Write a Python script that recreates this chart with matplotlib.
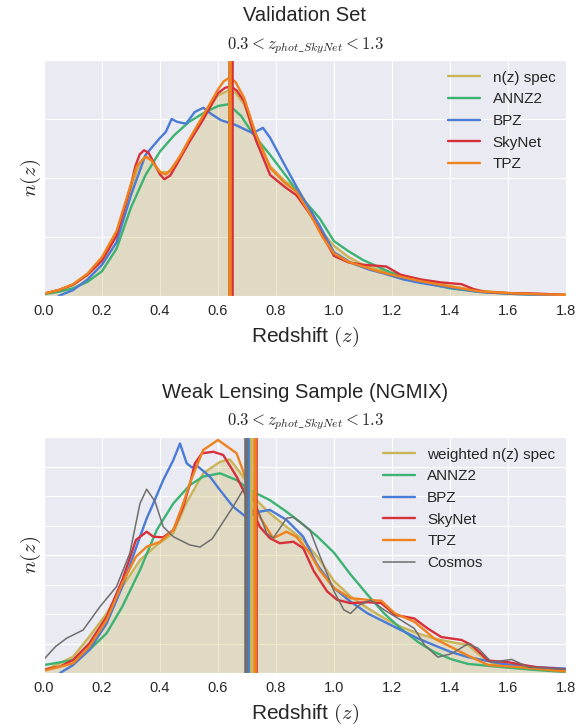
import matplotlib
matplotlib.use("Agg")
import matplotlib.pyplot as plt
import seaborn as sns

sns.set_style("darkgrid")
plt.rcParams['font.family'] = ['Liberation Sans', 'DejaVu Sans']
plt.rcParams['mathtext.fontset'] = 'cm'

# ---- validation set n(z) ----
val_spec_z = [0.0, 0.05, 0.1, 0.15, 0.2, 0.25, 0.28, 0.3, 0.33, 0.35, 0.37, 0.4, 0.43, 0.46, 0.5, 0.55,
              0.6, 0.635, 0.66, 0.69, 0.73, 0.78, 0.83, 0.88, 0.92, 0.96, 1.0, 1.05, 1.1, 1.15, 1.2,
              1.3, 1.4, 1.5, 1.6, 1.7, 1.8]
val_spec_n = [0.04, 0.1, 0.19, 0.36, 0.62, 1.05, 1.45, 1.82, 2.25, 2.38, 2.3, 2.1, 2.1, 2.3, 2.62, 3.05,
              3.4, 3.48, 3.45, 3.25, 2.75, 2.2, 1.95, 1.78, 1.45, 1.08, 0.85, 0.66, 0.53, 0.45, 0.39,
              0.26, 0.17, 0.09, 0.05, 0.03, 0.02]

val_annz2_z = [0.0, 0.05, 0.1, 0.15, 0.2, 0.25, 0.3, 0.35, 0.4, 0.45, 0.5, 0.55, 0.6, 0.635, 0.68, 0.72,
               0.78, 0.84, 0.89, 0.95, 1.0, 1.05, 1.1, 1.15, 1.2, 1.3, 1.4, 1.5, 1.6, 1.7, 1.8]
val_annz2_n = [0.03, 0.07, 0.13, 0.24, 0.42, 0.8, 1.5, 2.05, 2.45, 2.73, 2.95, 3.1, 3.22, 3.25, 3.05, 2.75,
               2.39, 2.0, 1.66, 1.32, 0.93, 0.76, 0.61, 0.5, 0.39, 0.24, 0.13, 0.07, 0.04, 0.02, 0.01]

val_bpz_z = [0.05, 0.1, 0.15, 0.2, 0.25, 0.3, 0.35, 0.4, 0.42, 0.44, 0.46, 0.49, 0.52, 0.55, 0.575, 0.61,
             0.66, 0.72, 0.755, 0.78, 0.83, 0.89, 0.95, 1.0, 1.06, 1.12, 1.18, 1.24, 1.3, 1.4, 1.5, 1.6,
             1.7, 1.8]
val_bpz_n = [0.0, 0.1, 0.28, 0.53, 0.91, 1.71, 2.39, 2.68, 2.78, 3.0, 2.95, 2.92, 3.12, 3.19, 3.09, 2.98,
             2.9, 2.76, 2.85, 2.68, 2.22, 1.68, 1.2, 0.74, 0.56, 0.45, 0.37, 0.28, 0.22, 0.14, 0.07, 0.04,
             0.02, 0.01]

val_skynet_z = [0.0, 0.05, 0.1, 0.15, 0.2, 0.25, 0.3, 0.315, 0.33, 0.345, 0.36, 0.38, 0.4, 0.415, 0.435,
                0.46, 0.5, 0.55, 0.6, 0.625, 0.645, 0.665, 0.69, 0.73, 0.78, 0.83, 0.87, 0.92, 0.96,
                1.0, 1.05, 1.1, 1.18, 1.23, 1.3, 1.37, 1.44, 1.48, 1.52, 1.6, 1.7, 1.8]
val_skynet_n = [0.04, 0.1, 0.19, 0.36, 0.6, 1.02, 1.88, 2.2, 2.4, 2.47, 2.43, 2.25, 2.06, 1.98, 2.04,
                2.25, 2.6, 3.0, 3.44, 3.53, 3.55, 3.48, 3.3, 2.65, 2.05, 1.85, 1.71, 1.37, 1.03,
                0.68, 0.57, 0.53, 0.5, 0.36, 0.28, 0.23, 0.2, 0.12, 0.07, 0.05, 0.04, 0.02]

val_tpz_z = [0.0, 0.05, 0.1, 0.15, 0.2, 0.25, 0.3, 0.32, 0.35, 0.37, 0.4, 0.42, 0.44, 0.47, 0.5, 0.55,
             0.6, 0.62, 0.64, 0.66, 0.69, 0.73, 0.78, 0.83, 0.87, 0.92, 0.96, 1.0, 1.05, 1.1, 1.15,
             1.2, 1.3, 1.4, 1.5, 1.6, 1.7, 1.8]
val_tpz_n = [0.04, 0.1, 0.2, 0.38, 0.66, 1.1, 1.9, 2.2, 2.36, 2.3, 2.1, 2.06, 2.15, 2.38, 2.65, 3.07,
             3.5, 3.64, 3.70, 3.63, 3.36, 2.75, 2.17, 1.92, 1.77, 1.37, 1.0, 0.72, 0.58, 0.5, 0.42,
             0.36, 0.25, 0.16, 0.08, 0.05, 0.03, 0.02]

val_means = [0.640, 0.640, 0.640, 0.648, 0.641]

# ---- weak lensing sample n(z) ----
wl_spec_z = [0.0, 0.1, 0.156, 0.216, 0.27, 0.331, 0.389, 0.446, 0.49, 0.549, 0.607, 0.641, 0.687, 0.733,
             0.779, 0.836, 0.894, 0.95, 1.0, 1.057, 1.116, 1.173, 1.23, 1.29, 1.346, 1.404, 1.462, 1.52,
             1.56, 1.65, 1.8]
wl_spec_n = [0.08, 0.55, 1.23, 2.02, 2.93, 3.83, 4.34, 4.74, 5.75, 6.77, 7.16, 7.24, 6.66, 5.86,
             5.41, 4.96, 4.51, 3.85, 3.12, 2.6, 2.2, 1.86, 1.57, 1.34, 1.17, 1.05, 0.95, 0.47,
             0.27, 0.15, 0.07]

wl_annz2_z = [0.0, 0.1, 0.156, 0.216, 0.27, 0.331, 0.389, 0.446, 0.503, 0.549, 0.607, 0.664, 0.71, 0.779,
              0.836, 0.883, 0.94, 1.0, 1.057, 1.116, 1.173, 1.23, 1.29, 1.346, 1.404, 1.462, 1.58, 1.7,
              1.8]
wl_annz2_n = [0.27, 0.44, 0.78, 1.35, 2.25, 3.49, 4.85, 5.75, 6.37, 6.66, 6.77, 6.54, 6.2, 5.86,
              5.47, 5.12, 4.65, 4.08, 3.34, 2.65, 2.02, 1.51, 1.05, 0.71, 0.47, 0.31, 0.2, 0.1, 0.03]

wl_bpz_z = [0.055, 0.1, 0.156, 0.216, 0.27, 0.331, 0.354, 0.377, 0.411, 0.446, 0.469, 0.492, 0.51, 0.526,
            0.572, 0.607, 0.652, 0.698, 0.744, 0.779, 0.836, 0.894, 0.94, 1.0, 1.057, 1.116, 1.173, 1.23,
            1.29, 1.346, 1.404, 1.462, 1.58, 1.7, 1.8]
wl_bpz_n = [0.0, 0.27, 0.78, 1.68, 2.93, 4.62, 5.24, 5.75, 6.54, 7.22, 7.78, 7.11, 6.97, 7.04,
            6.66, 6.2, 5.64, 5.28, 5.47, 5.53, 5.19, 4.62, 3.7, 2.88, 2.42, 2.02, 1.74, 1.46,
            1.17, 0.94, 0.71, 0.54, 0.31, 0.2, 0.15]

wl_skynet_z = [0.0, 0.055, 0.1, 0.156, 0.216, 0.27, 0.317, 0.354, 0.377, 0.411, 0.446, 0.48, 0.503, 0.52,
               0.545, 0.584, 0.618, 0.664, 0.698, 0.744, 0.779, 0.813, 0.86, 0.894, 0.93, 0.976, 1.011,
               1.057, 1.116, 1.163, 1.21, 1.277, 1.323, 1.37, 1.44, 1.474, 1.532, 1.6, 1.695, 1.8]
wl_skynet_n = [0.12, 0.22, 0.44, 1.0, 1.91, 3.15, 4.51, 4.79, 4.62, 4.6, 4.85, 5.64, 6.4, 7.1,
               7.45, 7.5, 7.39, 6.66, 5.98, 4.96, 4.57, 4.4, 4.45, 4.23, 3.46, 2.77, 2.48,
               2.37, 2.4, 2.37, 1.97, 1.85, 1.51, 1.22, 1.12, 0.95, 0.42, 0.37, 0.2, 0.12]

wl_tpz_z = [0.0, 0.1, 0.156, 0.216, 0.27, 0.317, 0.354, 0.4, 0.446, 0.48, 0.503, 0.549, 0.6, 0.664, 0.698,
            0.744, 0.79, 0.836, 0.87, 0.917, 0.95, 1.0, 1.057, 1.116, 1.163, 1.21, 1.277, 1.346, 1.404,
            1.462, 1.532, 1.637, 1.8]
wl_tpz_n = [0.08, 0.33, 0.89, 1.8, 3.04, 3.94, 4.28, 4.45, 4.85, 5.75, 6.43, 7.56, 7.9, 7.45, 6.54,
            5.3, 4.57, 4.79, 4.62, 4.06, 3.49, 2.88, 2.54, 2.48, 2.45, 2.02, 1.74, 1.17, 0.88,
            0.59, 0.27, 0.2, 0.05]

wl_cosmos_z = [0.0, 0.04, 0.078, 0.135, 0.193, 0.25, 0.296, 0.331, 0.354, 0.383, 0.411, 0.446, 0.503,
               0.538, 0.58, 0.607, 0.652, 0.693, 0.733, 0.768, 0.79, 0.837, 0.86, 0.917, 0.94, 1.0,
               1.034, 1.057, 1.086, 1.127, 1.173, 1.23, 1.277, 1.312, 1.358, 1.404, 1.462, 1.497,
               1.543, 1.613, 1.67, 1.8]
wl_cosmos_n = [0.47, 0.9, 1.18, 1.46, 2.25, 2.93, 4.06, 5.75, 6.23, 5.81, 4.96, 4.62, 4.34,
               4.27, 4.55, 4.96, 5.64, 6.32, 5.64, 4.74, 4.57, 5.25, 5.28, 4.85, 4.25, 2.77,
               2.14, 2.02, 2.3, 2.47, 2.14, 1.8, 1.51, 0.95, 0.54, 0.65, 0.99, 0.84,
               0.37, 0.46, 0.2, 0.12]

wl_means = [0.713, 0.702, 0.702, 0.731, 0.726, 0.697]

labels_val = ['n(z) spec', 'ANNZ2', 'BPZ', 'SkyNet', 'TPZ']
labels_wl = ['weighted n(z) spec', 'ANNZ2', 'BPZ', 'SkyNet', 'TPZ', 'Cosmos']
colors = ['#c9b458', '#3cb371', '#4a7bd6', '#d7303a', '#f0821e', '#6e6e6e']
xticks = [0.0, 0.2, 0.4, 0.6, 0.8, 1.0, 1.2, 1.4, 1.6, 1.8]

subtitle = r'$0.3 < z_{phot\_SkyNet} < 1.3$'


def draw(ax, curves, labels, means, ymax):
    # shaded spectroscopic distribution underneath everything
    ax.fill_between(curves[0][0], curves[0][1], color=colors[0], alpha=0.3, lw=0)
    for (z, n), lab, c in zip(curves, labels, colors):
        lw = 1.1 if lab == 'Cosmos' else 1.7
        ax.plot(z, n, color=c, lw=lw, label=lab, solid_joinstyle='round')
    for m, c in zip(means, colors):
        ax.axvline(m, color=c, lw=2.6)
    ax.set_xlim(0, 1.8)
    ax.set_ylim(0, ymax)
    ax.set_yticks(range(ymax + 1))
    ax.set_yticklabels([])
    ax.set_xticks(xticks)
    ax.set_xticklabels(['%.1f' % t for t in xticks])
    ax.tick_params(axis='both', length=0, pad=6, labelsize=10.5)
    ax.set_xlabel(r'Redshift $(z)$', fontsize=15, labelpad=5)
    ax.set_ylabel(r'$n(z)$', fontsize=15, labelpad=-5)
    ax.legend(loc='upper right', frameon=False, fontsize=11, handlelength=2.1,
              handletextpad=0.8, labelspacing=0.5, borderaxespad=0.3)


fig = plt.figure(figsize=(5.82, 7.28), dpi=100)
ax1 = fig.add_axes([0.0756, 0.5934, 0.8969, 0.3242])
ax2 = fig.add_axes([0.0756, 0.0755, 0.8969, 0.3242])

draw(ax1, [(val_spec_z, val_spec_n), (val_annz2_z, val_annz2_n), (val_bpz_z, val_bpz_n),
           (val_skynet_z, val_skynet_n), (val_tpz_z, val_tpz_n)], labels_val, val_means, 4)
draw(ax2, [(wl_spec_z, wl_spec_n), (wl_annz2_z, wl_annz2_n), (wl_bpz_z, wl_bpz_n),
           (wl_skynet_z, wl_skynet_n), (wl_tpz_z, wl_tpz_n), (wl_cosmos_z, wl_cosmos_n)],
     labels_wl, wl_means, 8)

fig.text(0.524, 0.979, 'Validation Set', ha='center', va='center', fontsize=14.5, color='#262626')
fig.text(0.524, 0.937, subtitle, ha='center', va='center', fontsize=12, color='#262626')
fig.text(0.524, 0.461, 'Weak Lensing Sample (NGMIX)', ha='center', va='center', fontsize=14.5,
         color='#262626')
fig.text(0.524, 0.421, subtitle, ha='center', va='center', fontsize=12, color='#262626')

fig.savefig('out.png', dpi=100)
